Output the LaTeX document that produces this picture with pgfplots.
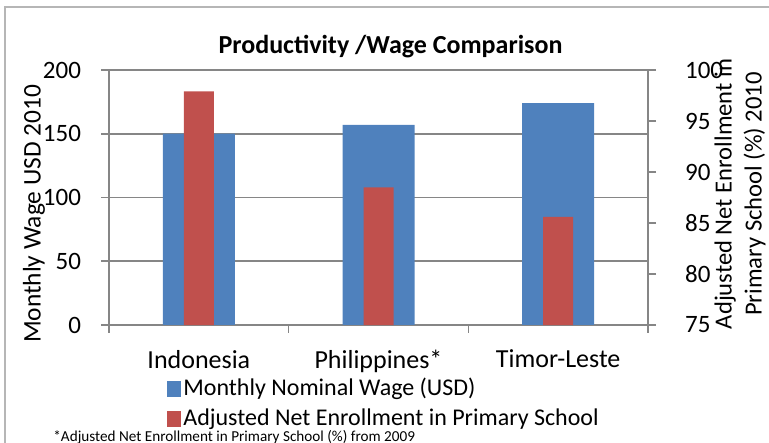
\documentclass[border=0pt]{standalone}
\usepackage{pgfplots}
\pgfplotsset{compat=1.18}
\usepackage{fontspec}
\setmainfont{Carlito}
\definecolor{wageblue}{HTML}{4F81BD}
\definecolor{enrolred}{HTML}{C0504D}
\definecolor{axgray}{HTML}{868686}
\pgfplotsset{sqlegend/.style={legend image code/.code={\fill[##1] (0pt,-4pt) rectangle (7pt,4pt);}}}

\begin{document}
\begin{tikzpicture}[font=\fontsize{12.5}{15}\selectfont]
\useasboundingbox (-54.5pt,-59pt) rectangle (330pt,162.5pt);
\draw[axgray!60, line width=0.8pt] (-52pt,-59pt) -- (-52pt,159pt) -- (330pt,159pt);

% left axis: wage (blue)
\begin{axis}[
  at={(0,0)}, anchor=south west,
  scale only axis, width=269.5pt, height=127.5pt,
  xmin=-0.5, xmax=2.5, ymin=0, ymax=200,
  axis x line=bottom, axis y line=left,
  axis line style={-, draw=axgray, line width=0.8pt},
  ytick={0,50,...,200},
  yticklabel={\pgfmathprintnumber{\tick}\hspace*{6.5pt}},
  ymajorgrids, grid style={axgray, line width=0.8pt},
  tick style={axgray, line width=0.8pt},
  tick align=outside, major tick length=4pt,
  xtick={-0.5,0.5,1.5,2.5},
  x tick label as interval,
  xticklabels={Indonesia,Philippines*,Timor-Leste},
  xticklabel shift=5pt,
  xticklabel style={font=\fontsize{13}{15}\selectfont},
  ybar, bar width=36pt,
  /pgf/number format/assume math mode=true,
]
\addplot[fill=wageblue, draw=none] coordinates {(0,150) (1,157) (2,174)};
\end{axis}

% right axis: enrollment (red)
\begin{axis}[
  at={(0,0)}, anchor=south west,
  scale only axis, width=269.5pt, height=127.5pt,
  xmin=-0.5, xmax=2.5, ymin=75, ymax=100,
  axis x line=none, axis y line*=right,
  axis line style={-, draw=axgray, line width=0.8pt},
  ytick={75,80,...,100},
  yticklabel={\hspace*{11pt}\pgfmathprintnumber{\tick}},
  tick style={axgray, line width=0.8pt},
  tick align=outside, major tick length=4pt,
  ybar, bar width=15pt,
  /pgf/number format/assume math mode=true,
  legend style={at={(rel axis cs:0.1076,-0.196)}, anchor=north west,
    draw=none, fill=none, inner sep=0pt, row sep=1pt,
    font=\fontsize{12}{14}\selectfont,
    nodes={inner sep=1pt, text height=9pt, text depth=3pt}},
  legend cell align=left,
]
\addlegendimage{fill=wageblue, draw=none, sqlegend}
\addlegendentry{Monthly Nominal Wage (USD)}
\addplot[fill=enrolred, draw=none, sqlegend]
  coordinates {(0,97.9) (1,88.5) (2,85.6)};
\addlegendentry{Adjusted Net Enrollment in Primary School}
\end{axis}

\node[font=\fontsize{13}{15}\selectfont\bfseries] at (140.75pt,139pt) {Productivity /Wage Comparison};
\node[rotate=90, font=\fontsize{12.7}{15}\selectfont] at (-37.5pt,55.5pt) {Monthly Wage USD 2010};
\node[rotate=90, align=center, font=\fontsize{12.3}{15}\selectfont] at (315.5pt,65.5pt)
  {Adjusted Net Enrollment in\\Primary School (\%) 2010};
\node[anchor=base west, inner sep=0pt, font=\fontsize{7.6}{9}\selectfont] at (-28pt,-58.3pt)
  {*Adjusted Net Enrollment in Primary School (\%) from 2009};
\end{tikzpicture}
\end{document}
